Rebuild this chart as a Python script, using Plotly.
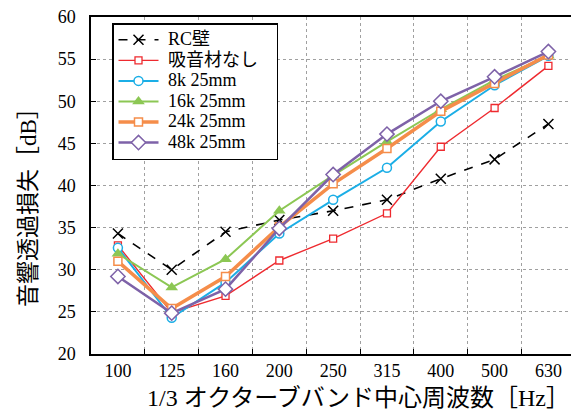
import plotly.graph_objects as go

freqs = ["100", "125", "160", "200", "250", "315", "400", "500", "630"]
rc_wall = [34.3, 30.0, 34.5, 35.9, 37.0, 38.3, 40.8, 43.1, 47.3]
no_absorber = [32.9, 24.9, 26.9, 31.1, 33.7, 36.7, 44.6, 49.2, 54.2]
k8_25 = [32.6, 24.3, 28.5, 34.3, 38.3, 42.1, 47.6, 51.9, 55.4]
k16_25 = [31.9, 27.9, 31.25, 37.0, 41.2, 45.2, 49.05, 52.5, 55.4]
k24_25 = [31.0, 25.4, 29.2, 35.1, 40.2, 44.4, 48.8, 52.1, 55.5]
k48_25 = [29.2, 24.85, 27.7, 34.9, 41.3, 46.1, 50.0, 52.9, 55.9]

names = ["RC壁", "吸音材なし", "8k 25mm", "16k 25mm", "24k 25mm", "48k 25mm"]
xs = list(range(len(freqs)))

FONT = "Liberation Serif, Noto Sans CJK JP, serif"


def lg(name):
    return '<span style="font-size:18px">\u00a0' + name + '</span>'


fig = go.Figure()
fig.add_trace(go.Scatter(x=xs, y=rc_wall, name=lg(names[0]), mode="lines+markers",
                         line=dict(color="black", width=1.6, dash="dash"),
                         marker=dict(symbol="x-thin", size=10, line=dict(color="black", width=1.5))))
fig.add_trace(go.Scatter(x=xs, y=no_absorber, name=lg(names[1]) + "\u00a0" * 4, mode="lines+markers",
                         line=dict(color="#EE2A2F", width=1.4),
                         marker=dict(symbol="square", size=7, color="white", line=dict(color="#EE2A2F", width=1.3))))
fig.add_trace(go.Scatter(x=xs, y=k8_25, name=lg(names[2]), mode="lines+markers",
                         line=dict(color="#1BAEE6", width=2),
                         marker=dict(symbol="circle", size=9, color="white", line=dict(color="#1BAEE6", width=1.5))))
fig.add_trace(go.Scatter(x=xs, y=k16_25, name=lg(names[3]), mode="lines+markers",
                         line=dict(color="#8CC754", width=2),
                         marker=dict(symbol="triangle-up", size=11, color="#8CC754", line=dict(width=0))))
fig.add_trace(go.Scatter(x=xs, y=k24_25, name=lg(names[4]), mode="lines+markers",
                         line=dict(color="#F58D4A", width=3.5),
                         marker=dict(symbol="square", size=8, color="white", line=dict(color="#F58D4A", width=1.5))))
fig.add_trace(go.Scatter(x=xs, y=k48_25, name=lg(names[5]), mode="lines+markers",
                         line=dict(color="#7E62A8", width=2.5),
                         marker=dict(symbol="diamond", size=11, color="white", line=dict(color="#7E62A8", width=1.5))))

fig.update_layout(
    width=571, height=415,
    margin=dict(l=91, r=0, t=17, b=61, autoexpand=False),
    plot_bgcolor="white", paper_bgcolor="white",
    font=dict(family=FONT, size=18, color="black"),
    showlegend=True,
    legend=dict(x=(112 - 91) / 480, y=(354 - 23) / 337, xanchor="left", yanchor="top",
                bgcolor="white", bordercolor="black", borderwidth=1.5,
                font=dict(family=FONT, size=13.5), tracegroupgap=0,
                itemwidth=40),
)

fig.update_xaxes(
    range=[-0.5, 8.42], tickmode="array", tickvals=xs, ticktext=freqs,
    tickfont=dict(family=FONT, size=18, color="black"),
    ticks="", showgrid=False, zeroline=False, automargin=False,
    showline=True, linecolor="black", linewidth=1.5, mirror=True,
    ticklabelstandoff=0,
    minor=dict(tickmode="array", tickvals=[i + 0.5 for i in range(8)],
               ticks="inside", ticklen=5, tickcolor="black", tickwidth=1,
               showgrid=True, gridcolor="#A0A0A0", griddash="dot", gridwidth=1),
)
fig.update_yaxes(
    range=[20, 60], tickmode="array", tickvals=[20, 25, 30, 35, 40, 45, 50, 55, 60],
    tickfont=dict(family=FONT, size=18, color="black"),
    ticks="inside", ticklen=5, tickcolor="black", automargin=False,
    showgrid=True, gridcolor="#A0A0A0", griddash="dot", gridwidth=1,
    zeroline=False, showline=True, linecolor="black", linewidth=1.5, mirror=False,
    ticklabelstandoff=10,
)

fig.add_annotation(text="1/3 オクターブバンド中心周波数［Hz］", xref="paper", yref="paper",
                   x=(358 - 91) / 480, y=-(398 - 354) / 337, xanchor="center", yanchor="middle",
                   showarrow=False, font=dict(family=FONT, size=24))
fig.add_annotation(text="音響透過損失［dB］", xref="paper", yref="paper",
                   x=-(91 - 28) / 480, y=(354 - 202) / 337, xanchor="center", yanchor="middle",
                   textangle=-90, showarrow=False, font=dict(family=FONT, size=23))

fig.write_html("out.html", config={"displayModeBar": False},
               post_script="document.body.style.margin='0';")
